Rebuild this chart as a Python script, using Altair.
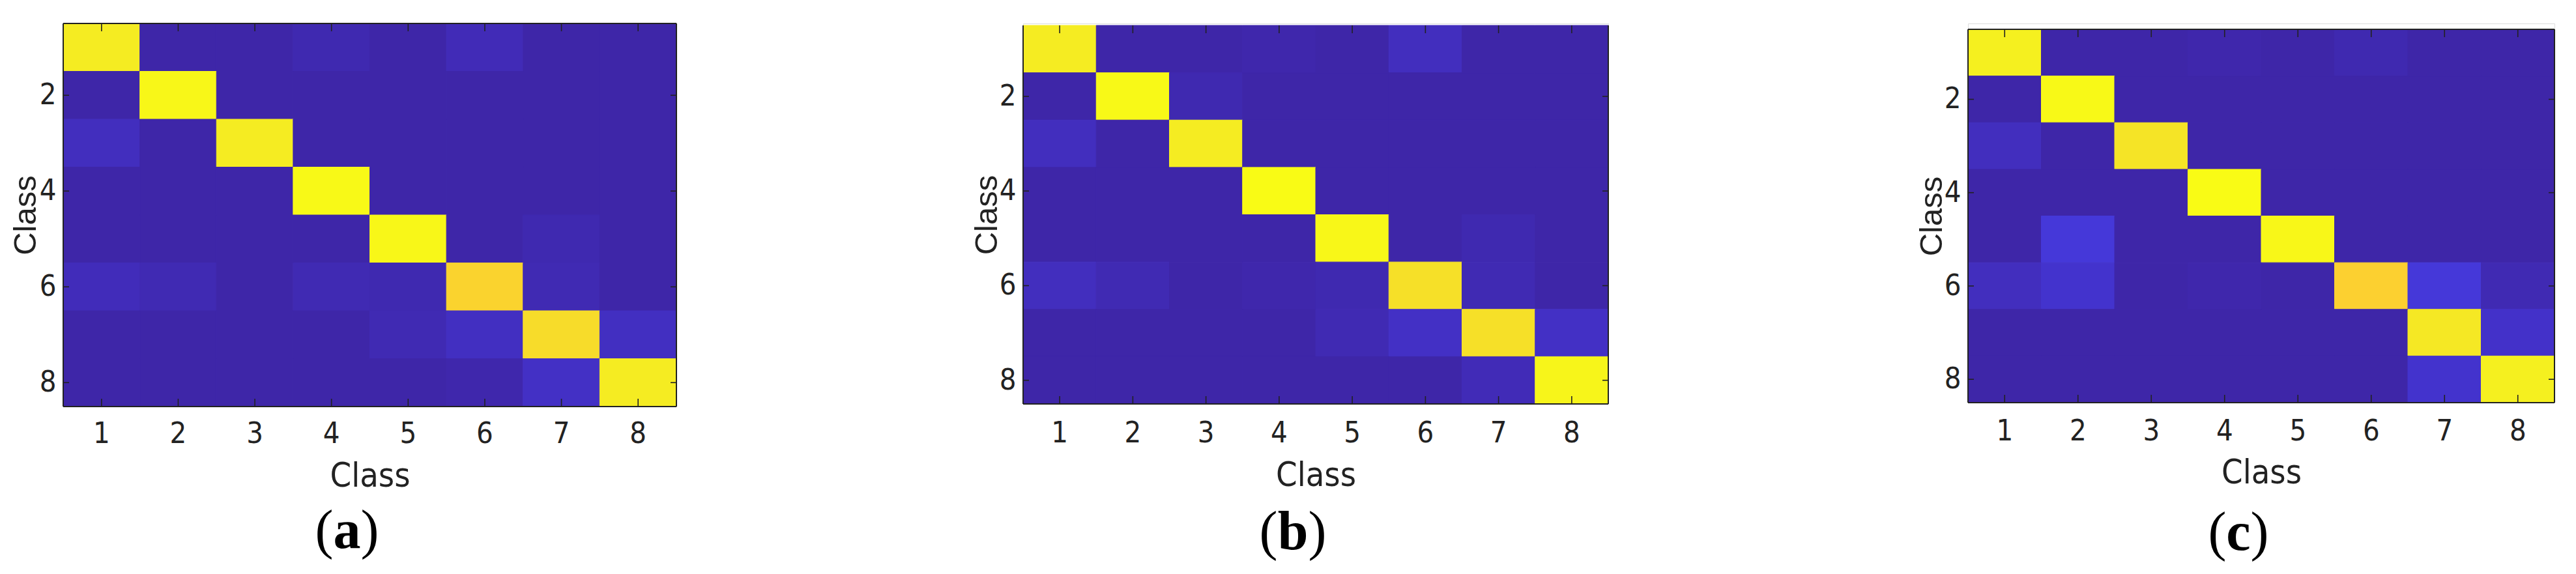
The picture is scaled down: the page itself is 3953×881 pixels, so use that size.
import altair as alt
import pandas as pd

# ---------------- data ----------------
classes = [1, 2, 3, 4, 5, 6, 7, 8]
y_tick_values = [2, 4, 6, 8]
x_title = "Class"
y_title = "Class"
captions = ["a", "b", "c"]

# confusion matrices (%), rows = true class 1..8 (top to bottom), cols = predicted class 1..8
conf_a = [
    [96, 0, 0, 1, 0, 2, 0, 0],
    [0, 99, 0, 0, 0, 0, 0, 0],
    [3, 0, 96, 0, 0, 0, 0, 0],
    [0, 0, 0, 99.5, 0, 0, 0, 0],
    [0, 0, 0, 0, 99, 0, 1, 0],
    [2.5, 1.5, 0, 1.5, 1, 90, 1.5, 0],
    [0, 0, 0, 0, 1.5, 3.5, 92, 3.5],
    [0, 0, 0, 0, 0, 0.5, 4, 96],
]
conf_b = [
    [96, 0, 0, 0.5, 0, 3, 0, 0],
    [0, 99.5, 1, 0, 0, 0, 0, 0],
    [3, 0, 96, 0, 0, 0, 0, 0],
    [0, 0, 0, 100, 0, 0, 0, 0],
    [0, 0, 0, 0, 99, 0, 1, 0],
    [3, 1.5, 0, 0.5, 1, 93, 1.5, 0],
    [0, 0, 0, 0, 1.5, 4, 93, 4],
    [0, 0, 0, 0, 0, 0, 2, 98.5],
]
conf_c = [
    [97, 0, 0, 0.5, 0, 1, 0, 0],
    [0, 99.5, 0, 0, 0, 0, 0, 0],
    [3, 0, 94, 0, 0, 0, 0, 0],
    [0, 0, 0, 100, 0, 0, 0, 0],
    [0, 7, 0, 0, 99, 0, 0, 0],
    [3, 5, 0, 0.5, 0, 89, 7, 1.5],
    [0, 0, 0, 0, 0, 0, 95, 4.5],
    [0, 0, 0, 0, 0, 0, 5, 97],
]

# parula-like colour ramp (value in %, colour)
cmap_stops = [0, 1.59, 3.17, 4.76, 6.35, 7.94, 9.52, 11.1, 25, 40, 55, 70, 80,
              87.3, 88.9, 90.5, 92.1, 93.7, 95.2, 96.8, 100]
cmap_colors = ["#3e26a8", "#402ab4", "#422ebf", "#4332cb", "#4536d5", "#463cde",
               "#4741e5", "#4847eb", "#1e88e8", "#12b0cc", "#5fbe75", "#d4bb3f",
               "#fdbb3c", "#fcca30", "#fcd030", "#f9d52d", "#f7dc2a", "#f5e327",
               "#f5e924", "#f5ef20", "#f9fb15"]

TXT = "#222222"
NARROW = "Liberation Sans Narrow, Arial Narrow, DejaVu Sans Condensed, Liberation Sans, sans-serif"
SERIF = "Liberation Serif, Times New Roman, serif"


def long_table(mat):
    rows = []
    for i, r in enumerate(mat):
        for j, v in enumerate(r):
            rows.append({"row": classes[i], "col": classes[j], "v": v})
    return pd.DataFrame(rows)


def x_axis(title_y, label_pad):
    return alt.Axis(
        title=x_title, labelAngle=0, ticks=False, tickSize=0, domain=False, grid=False,
        labelFont=NARROW, labelFontSize=45, labelColor=TXT, labelPadding=label_pad,
        labelBaseline="middle",
        titleFont=NARROW, titleFontSize=52, titleFontWeight="normal",
        titleColor=TXT, titleBaseline="middle", titleAlign="center", titleY=title_y)


def y_axis(title_x, title_y):
    return alt.Axis(
        values=y_tick_values, title=y_title, ticks=False, tickSize=0, domain=False,
        grid=False, labelFont=NARROW, labelFontSize=45, labelColor=TXT,
        labelPadding=11, titleFont="Liberation Sans, Arial, sans-serif",
        titleFontSize=49, titleFontWeight="normal", titleColor=TXT,
        titleAngle=270, titleBaseline="middle", titleAlign="center",
        titleX=title_x, titleY=title_y)


MTOP = 26  # common distance from page top (after margin) to the plot origin


def panel(mat, letter, w, h, dy, mleft, box_top, cap_base, letter_w,
          xt_y, xl_pad, yt_x):
    """dy: how far this panel's heat map starts below the common plot origin."""
    H = dy + h
    df = long_table(mat)
    xs = alt.Scale(type="band", paddingInner=0, paddingOuter=0)
    ys = alt.Scale(type="band", paddingInner=0, paddingOuter=0, range=[dy, H])
    cscale = alt.Scale(domain=cmap_stops, range=cmap_colors, interpolate="rgb")
    XA = x_axis(xt_y, xl_pad)
    YA = y_axis(yt_x, dy + h / 2)

    heat = alt.Chart(df).mark_rect(strokeWidth=1).encode(
        x=alt.X("col:O", scale=xs, axis=XA, title=x_title),
        y=alt.Y("row:O", scale=ys, axis=YA, title=y_title),
        color=alt.Color("v:Q", scale=cscale, legend=None),
        stroke=alt.Stroke("v:Q", scale=cscale, legend=None),
    )

    xt = pd.DataFrame({"col": classes})
    yt = pd.DataFrame({"row": y_tick_values})
    tick_style = dict(color=TXT, strokeWidth=1.6)
    t_bottom = alt.Chart(xt).mark_rule(**tick_style).encode(
        x=alt.X("col:O", axis=XA, title=x_title), y=alt.value(H), y2=alt.value(H - 12))
    t_top = alt.Chart(xt).mark_rule(**tick_style).encode(
        x=alt.X("col:O", axis=XA, title=x_title), y=alt.value(dy), y2=alt.value(dy + 12))
    t_left = alt.Chart(yt).mark_rule(**tick_style).encode(
        y=alt.Y("row:O", axis=YA, title=y_title), x=alt.value(0), x2=alt.value(9))
    t_right = alt.Chart(yt).mark_rule(**tick_style).encode(
        y=alt.Y("row:O", axis=YA, title=y_title), x=alt.value(w), x2=alt.value(w - 9))

    one = pd.DataFrame({"k": [0]})
    fs = dict(color=TXT, strokeWidth=2)
    frames = [
        alt.Chart(one).mark_rule(**fs).encode(x=alt.value(0), y=alt.value(dy), y2=alt.value(H)),
        alt.Chart(one).mark_rule(**fs).encode(x=alt.value(w), y=alt.value(dy), y2=alt.value(H)),
        alt.Chart(one).mark_rule(**fs).encode(x=alt.value(0), x2=alt.value(w), y=alt.value(H)),
    ]
    if box_top:
        frames.append(alt.Chart(one).mark_rule(**fs).encode(
            x=alt.value(0), x2=alt.value(w), y=alt.value(dy)))

    # invisible anchor that fixes where this panel sits in the row
    anchor = alt.Chart(one).mark_text(text=".", fontSize=1, color="white").encode(
        x=alt.value(-mleft), y=alt.value(-MTOP))

    cx = w / 2 - 35
    cap_l = alt.Chart(one).mark_text(text="(", font=SERIF, fontSize=84, color="black",
                                     align="right", baseline="alphabetic").encode(
        x=alt.value(cx - letter_w / 2), y=alt.value(cap_base))
    cap_m = alt.Chart(one).mark_text(text=letter, font=SERIF, fontSize=84, fontWeight="bold",
                                     color="black", align="center", baseline="alphabetic").encode(
        x=alt.value(cx), y=alt.value(cap_base))
    cap_r = alt.Chart(one).mark_text(text=")", font=SERIF, fontSize=84, color="black",
                                     align="left", baseline="alphabetic").encode(
        x=alt.value(cx + letter_w / 2), y=alt.value(cap_base))

    return alt.layer(heat, t_bottom, t_top, t_left, t_right, *frames, anchor,
                     cap_l, cap_m, cap_r).properties(width=w, height=H)


pa = panel(conf_a, captions[0], 941, 588, 0, 88, True, 805, 42, 106, 41, -58)
pb = panel(conf_b, captions[1], 898, 581, 3, 529, False, 807, 47, 109, 44, -56)
pc = panel(conf_c, captions[2], 900, 573, 9, 549, True, 808, 37, 107, 43, -56)

chart = alt.hconcat(pa, pb, pc, spacing=0).properties(padding=0).configure_view(
    stroke=None).configure(background="white")

chart.save("out.html", embed_options={"renderer": "svg", "actions": False})
